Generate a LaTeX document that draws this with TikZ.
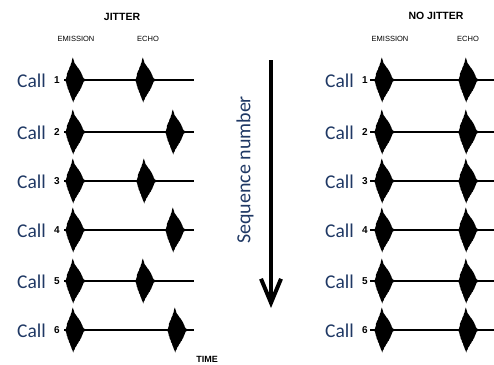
\documentclass[tikz,border=0pt]{standalone}
\usepackage{fontspec}
\setmainfont{Carlito}
\newfontfamily\labelfont{Liberation Sans}
\usetikzlibrary{arrows.meta}
\definecolor{callblue}{RGB}{31,56,100}

\tikzset{
  calltext/.style={font=\fontsize{19.5}{20}\selectfont, text=callblue, anchor=base east, inner sep=0pt},
  numtext/.style={font=\labelfont\bfseries\fontsize{10}{10}\selectfont, inner sep=0pt},
  paneltitle/.style={font=\labelfont\bfseries\fontsize{10.5}{11}\selectfont, inner sep=0pt},
  colhead/.style={font=\labelfont\fontsize{7.5}{8}\selectfont, inner sep=0pt},
  trace/.style={line width=1.8pt},
  seqarrow/.style={line width=4pt, -{Straight Barb[length=24pt,width=20pt]}},
  % a single echolocation pulse: a jagged spindle with a full belly on the trace
  burst/.pic={
    \fill[black]
      (-10.5,0) -- (-9,-1.5) -- (-8.6,-3) -- (-8.0,-4.5) -- (-8.2,-6) -- (-7.4,-7.5)
      -- (-7.0,-9) -- (-6.0,-10.5) -- (-5.6,-12.5) -- (-4.6,-14) -- (-4.2,-16)
      -- (-3.4,-17.5) -- (-3.0,-20) -- (-2.2,-22.5) -- (-1.6,-20.5) -- (-1.0,-19)
      -- (-0.6,-17) -- (0.6,-15.5) -- (1.6,-14) -- (2.6,-12.5) -- (3.6,-11.5)
      -- (4.4,-10) -- (5.2,-9) -- (6.0,-7.5) -- (6.6,-6) -- (7.4,-4.5) -- (7.8,-3)
      -- (8.8,-1.6) -- (10.5,-0.6)
      -- (10.5,0.6) -- (8.8,1.6) -- (8.0,3) -- (7.6,4.5) -- (6.8,6) -- (6.4,7.5)
      -- (5.4,9) -- (4.8,10.5) -- (3.8,11.5) -- (3.2,13) -- (2.0,14.5) -- (1.4,16)
      -- (0.2,17.5) -- (-0.4,19.5) -- (-1.2,20.5) -- (-1.8,22.5) -- (-2.4,20.5)
      -- (-3.2,19) -- (-3.8,17) -- (-4.6,15.5) -- (-5.0,13.5) -- (-6.0,12)
      -- (-6.4,10) -- (-7.4,8.5) -- (-7.6,6.5) -- (-8.4,5) -- (-8.6,3)
      -- (-9.2,1.4) -- cycle;
  }
}

\begin{document}
\begin{tikzpicture}[x=1pt, y=-1pt]
\useasboundingbox (0,0) rectangle (494,364);

% panel headings
\node[paneltitle] (titleL) at (122,17) {JITTER};
\node[paneltitle] (titleR) at (436,16) {NO JITTER};
\node[colhead] (emL) at (76,39) {EMISSION};
\node[colhead] (ecL) at (148,39) {ECHO};
\node[colhead] (emR) at (390,39) {EMISSION};
\node[colhead] (ecR) at (468,39) {ECHO};

% calls with variable echo delay (left) and fixed echo delay (right)
\foreach \n/\y/\e in {1/80/145, 2/132/175, 3/181/146, 4/230/175, 5/281/145, 6/330/177} {
  % left panel
  \node[calltext] (callL\n) at (46,\y+7) {Call};
  \node[numtext] (numL\n) at (57,\y) {\n};
  \coordinate (startL\n) at (64,\y);
  \coordinate (endL\n) at (194,\y);
  \draw[trace] (startL\n) -- (endL\n);
  \pic at (75,\y) {burst};
  \pic at (\e,\y) {burst};
  % right panel
  \node[calltext] (callR\n) at (354,\y+7) {Call};
  \node[numtext] (numR\n) at (365,\y) {\n};
  \coordinate (startR\n) at (370,\y);
  \coordinate (endR\n) at (494,\y);
  \draw[trace] (startR\n) -- (endR\n);
  \pic at (384,\y) {burst};
  \pic at (468,\y) {burst};
}

% sequence arrow
\coordinate (seqtop) at (271,60);
\coordinate (seqend) at (271,308);
\draw[seqarrow] (seqtop) -- (seqend);
\node[rotate=90, text=callblue, font=\fontsize{20}{22}\selectfont, inner sep=0pt] (seqlabel) at (245,170) {Sequence number};

% time axis label
\node[paneltitle, font=\labelfont\bfseries\fontsize{9}{9}\selectfont] (timelabel) at (207,359.5) {TIME};
\end{tikzpicture}
\end{document}
